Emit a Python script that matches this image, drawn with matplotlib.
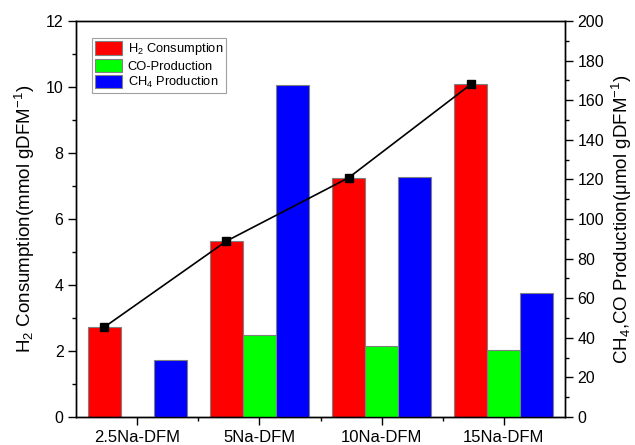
import matplotlib
matplotlib.use("Agg")
import matplotlib.pyplot as plt
from matplotlib.ticker import MultipleLocator, FixedLocator
import numpy as np

plt.rcParams['font.family'] = ['Liberation Sans', 'DejaVu Sans']
plt.rcParams['mathtext.fontset'] = 'custom'
plt.rcParams['mathtext.rm'] = 'Liberation Sans'
plt.rcParams['mathtext.it'] = 'Liberation Sans'

categories = ["2.5Na-DFM", "5Na-DFM", "10Na-DFM", "15Na-DFM"]
h2_consumption = [2.72, 5.33, 7.25, 10.08]          # mmol/g (left axis)
co_production = [0.0, 41.3, 35.8, 34.0]             # umol/g (right axis)
ch4_production = [29.0, 167.5, 121.0, 62.5]          # umol/g (right axis)

fig = plt.figure(figsize=(6.35, 4.45), dpi=100)
ax = fig.add_axes([76/635, 1-417/445, (565-76)/635, (417-21)/445])
ax2 = ax.twinx()

x = np.arange(1, len(categories) + 1)
w = 0.27
edge = '#808080'
b1 = ax.bar(x - w, h2_consumption, w, color='#ff0000', edgecolor=edge, linewidth=0.8, zorder=2)
b2 = ax2.bar(x, co_production, w, color='#00ff00', edgecolor=edge, linewidth=0.8, zorder=2)
b3 = ax2.bar(x + w, ch4_production, w, color='#0000ff', edgecolor=edge, linewidth=0.8, zorder=2)
ax2.plot(x - w, np.array(h2_consumption) * 200 / 12, color='black', marker='s', markersize=6, linewidth=1.2, zorder=5)

ax.set_xlim(0.5, 4.5)
ax.set_ylim(0, 12)
ax2.set_ylim(0, 200)
ax.set_xticks(x)
ax.set_xticklabels(categories)
ax.xaxis.set_minor_locator(FixedLocator([1.5, 2.5, 3.5]))
ax.yaxis.set_major_locator(MultipleLocator(2))
ax.yaxis.set_minor_locator(MultipleLocator(1))
ax2.yaxis.set_major_locator(MultipleLocator(20))
ax2.yaxis.set_minor_locator(MultipleLocator(10))

for a in (ax, ax2):
    a.tick_params(which='major', direction='out', length=6, width=1, labelsize=11.5, pad=3)
    a.tick_params(which='minor', direction='out', length=3, width=1)
    for s in a.spines.values():
        s.set_linewidth(1)
ax.tick_params(axis='x', which='both', top=False)
ax.tick_params(axis='x', labelsize=12)

ax.set_ylabel('H$_2$ Consumption(mmol gDFM$^{-1}$)', fontsize=13.5, labelpad=6)
ax2.set_ylabel('CH$_4$,CO Production(μmol gDFM$^{-1}$)', fontsize=13.5, labelpad=4)

leg = ax.legend([b1, b2, b3], ['H$_2$ Consumption', 'CO-Production', 'CH$_4$ Production'],
                loc='upper left', bbox_to_anchor=(0.033, 0.957), fontsize=9.3,
                frameon=True, fancybox=False, edgecolor='#a0a0a0', framealpha=1,
                handlelength=2.1, handleheight=1.2, labelspacing=0.15, borderpad=0.25,
                handletextpad=0.4, borderaxespad=0)
leg.get_frame().set_linewidth(0.8)

fig.savefig('out.png', dpi=100)
